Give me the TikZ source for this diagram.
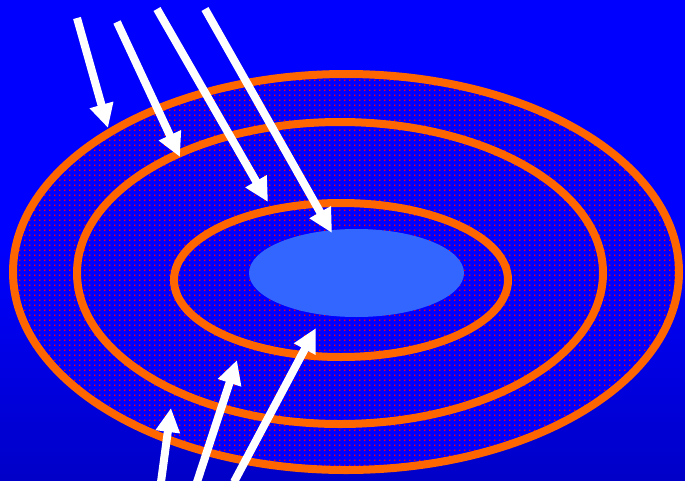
\documentclass[tikz,border=0pt]{standalone}
\usetikzlibrary{arrows.meta,patterns}
\definecolor{bgtop}{RGB}{0,0,255}
\definecolor{bgbot}{RGB}{0,0,200}
\definecolor{ring}{RGB}{255,102,0}
\definecolor{core}{RGB}{51,102,255}
\pgfdeclarepatternformonly{reddots}{\pgfpointorigin}{\pgfpoint{4.7pt}{4.7pt}}{\pgfpoint{4.7pt}{4.7pt}}{%
  \pgfpathrectangle{\pgfpointorigin}{\pgfpoint{1.5pt}{1.5pt}}\pgfusepath{fill}}
\tikzset{
  ringline/.style={draw=ring, line width=8pt},
  ray/.style={draw=white, line width=8pt, -{Triangle[width=23pt,length=24pt]}},
}
\begin{document}
\begin{tikzpicture}[x=1pt,y=-1pt]
\useasboundingbox (0,0) rectangle (685,480);
\shade[top color=bgtop, bottom color=bgbot, middle color=bgtop] (0,0) rectangle (685,480);
% dotted field
\fill[bgtop] (346,272) ellipse [x radius=333, y radius=198];
\fill[pattern=reddots, pattern color=red] (346,272) ellipse [x radius=333, y radius=198];
% rings
\draw[ringline] (346,272) ellipse [x radius=333, y radius=198];
\draw[ringline] (340,273) ellipse [x radius=263, y radius=151];
\draw[ringline] (341,280) ellipse [x radius=167, y radius=77];
% core
\fill[core] (356.5,273) ellipse [x radius=107.5, y radius=44];
% incoming rays
\coordinate (a1) at (77,18);   \coordinate (b1) at (108,128);
\coordinate (a2) at (117,22);  \coordinate (b2) at (180,157);
\coordinate (a3) at (157,9);   \coordinate (b3) at (268,202);
\coordinate (a4) at (205,9);   \coordinate (b4) at (332,233);
% outgoing rays
\coordinate (c1) at (161,482); \coordinate (d1) at (171,408);
\coordinate (c2) at (197,482); \coordinate (d2) at (237,360);
\coordinate (c3) at (234,482); \coordinate (d3) at (316,328);
\draw[ray] (a1) -- (b1);
\draw[ray] (a2) -- (b2);
\draw[ray] (a3) -- (b3);
\draw[ray] (a4) -- (b4);
\draw[ray] (c1) -- (d1);
\draw[ray] (c2) -- (d2);
\draw[ray] (c3) -- (d3);
\end{tikzpicture}
\end{document}
